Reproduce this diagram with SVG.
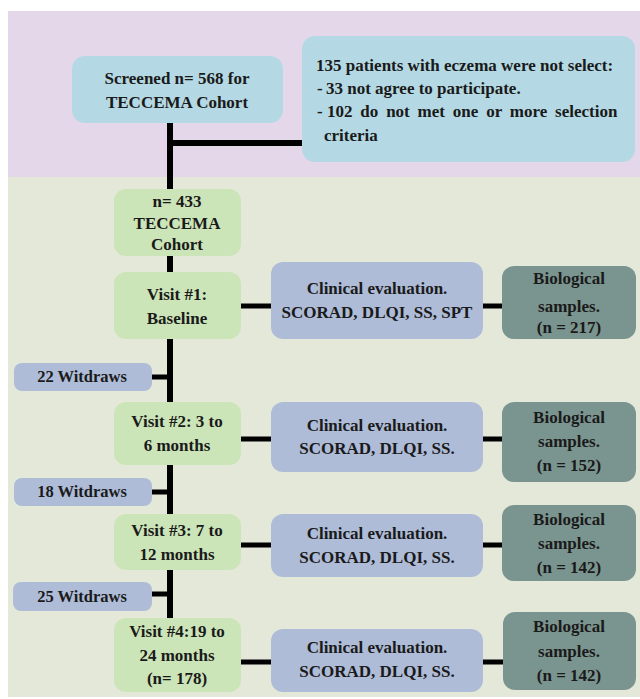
<svg xmlns="http://www.w3.org/2000/svg" width="640" height="699" viewBox="0 0 640 699" font-family="Liberation Serif, Times New Roman, serif">
<style>
text{font-family:"Liberation Serif","Times New Roman",serif;font-weight:bold;font-size:17px;fill:#1a1a1a}
.c{text-anchor:middle}
.w{font-size:16.5px}
.bl{fill:#b4d9e4}
.gr{fill:#cce5b8}
.cl{fill:#aebcd8}
.bi{fill:#7a948f}
.ln{stroke:#000;stroke-width:5;fill:none}
.lv{stroke:#000;stroke-width:6;fill:none}
</style>
<rect x="8" y="11" width="632" height="166" fill="#e3d7e9"/>
<rect x="8" y="177" width="632" height="520" fill="#e3e8d9"/>
<g id="connectors">
<line class="lv" x1="170" y1="123" x2="170" y2="619"/>
<line class="lv" x1="170" y1="143" x2="303" y2="143"/>
<line class="ln" x1="240" y1="306" x2="272" y2="306"/>
<line class="ln" x1="482" y1="306" x2="503" y2="306"/>
<line class="ln" x1="240" y1="439" x2="272" y2="439"/>
<line class="ln" x1="482" y1="439" x2="503" y2="439"/>
<line class="ln" x1="240" y1="545" x2="272" y2="545"/>
<line class="ln" x1="482" y1="545" x2="503" y2="545"/>
<line class="ln" x1="240" y1="662" x2="272" y2="662"/>
<line class="ln" x1="482" y1="662" x2="504" y2="662"/>
<line class="ln" x1="151" y1="377" x2="170" y2="377"/>
<line class="ln" x1="151" y1="492" x2="170" y2="492"/>
<line class="ln" x1="151" y1="594" x2="170" y2="594"/>
</g>
<g id="screened">
<rect class="bl" x="72" y="56" width="211" height="67" rx="13"/>
<text class="c" x="177" y="84">Screened n= 568 for</text>
<text class="c" x="177" y="108">TECCEMA Cohort</text>
</g>
<g id="excluded">
<rect class="bl" x="302" y="36" width="333" height="126" rx="13"/>
<text x="316" y="71">135 patients with eczema were not select:</text>
<text y="94"><tspan x="317">-</tspan><tspan x="326">33 not agree to participate.</tspan></text>
<text y="117"><tspan x="317">-</tspan><tspan x="327" word-spacing="3.6">102 do not met one or more selection</tspan></text>
<text x="324" y="141">criteria</text>
</g>
<g id="cohort">
<rect class="gr" x="114" y="189" width="127" height="67" rx="12"/>
<text class="c" x="177" y="207">n= 433</text>
<text class="c" x="177" y="229">TECCEMA</text>
<text class="c" x="177" y="250">Cohort</text>
</g>
<g id="visit1">
<rect class="gr" x="114" y="272" width="127" height="67" rx="12"/>
<text class="c" x="177" y="300">Visit #1:</text>
<text class="c" x="177" y="324">Baseline</text>
</g>
<g id="clinical1">
<rect class="cl" x="271" y="262" width="212" height="77" rx="12"/>
<text class="c" x="377" y="294">Clinical evaluation.</text>
<text class="c" x="377" y="318">SCORAD, DLQI, SS, SPT</text>
</g>
<g id="bio1">
<rect class="bi" x="502" y="266" width="134" height="73" rx="12"/>
<text class="c" x="569" y="284">Biological</text>
<text class="c" x="569" y="312">samples.</text>
<text class="c" x="569" y="333">(n = 217)</text>
</g>
<g id="withdraw1">
<rect class="cl" x="14" y="363" width="138" height="28" rx="8"/>
<text class="c w" x="82" y="382">22 Witdraws</text>
</g>
<g id="visit2">
<rect class="gr" x="114" y="402" width="127" height="63" rx="12"/>
<text class="c" x="177" y="427">Visit #2: 3 to</text>
<text class="c" x="177" y="451">6 months</text>
</g>
<g id="clinical2">
<rect class="cl" x="271" y="402" width="212" height="70" rx="12"/>
<text class="c" x="377" y="431">Clinical evaluation.</text>
<text class="c" x="377" y="454">SCORAD, DLQI, SS.</text>
</g>
<g id="bio2">
<rect class="bi" x="502" y="402" width="134" height="80" rx="12"/>
<text class="c" x="569" y="423">Biological</text>
<text class="c" x="569" y="447">samples.</text>
<text class="c" x="569" y="471">(n = 152)</text>
</g>
<g id="withdraw2">
<rect class="cl" x="14" y="478" width="138" height="28" rx="8"/>
<text class="c w" x="82" y="497">18 Witdraws</text>
</g>
<g id="visit3">
<rect class="gr" x="114" y="514" width="127" height="56" rx="12"/>
<text class="c" x="177" y="536">Visit #3: 7 to</text>
<text class="c" x="177" y="560">12 months</text>
</g>
<g id="clinical3">
<rect class="cl" x="271" y="514" width="212" height="63" rx="12"/>
<text class="c" x="377" y="539">Clinical evaluation.</text>
<text class="c" x="377" y="563">SCORAD, DLQI, SS.</text>
</g>
<g id="bio3">
<rect class="bi" x="502" y="505" width="134" height="76" rx="12"/>
<text class="c" x="569" y="525">Biological</text>
<text class="c" x="569" y="549">samples.</text>
<text class="c" x="569" y="573">(n = 142)</text>
</g>
<g id="withdraw3">
<rect class="cl" x="13" y="582" width="139" height="29" rx="8"/>
<text class="c w" x="82" y="602">25 Witdraws</text>
</g>
<g id="visit4">
<rect class="gr" x="114" y="618" width="127" height="74" rx="12"/>
<text class="c" x="177" y="637">Visit #4:19 to</text>
<text class="c" x="177" y="661">24 months</text>
<text class="c" x="177" y="684">(n= 178)</text>
</g>
<g id="clinical4">
<rect class="cl" x="271" y="629" width="212" height="63" rx="12"/>
<text class="c" x="377" y="653">Clinical evaluation.</text>
<text class="c" x="377" y="677">SCORAD, DLQI, SS.</text>
</g>
<g id="bio4">
<rect class="bi" x="503" y="612" width="133" height="78" rx="12"/>
<text class="c" x="569" y="632">Biological</text>
<text class="c" x="569" y="657">samples.</text>
<text class="c" x="569" y="681">(n = 142)</text>
</g>
</svg>
